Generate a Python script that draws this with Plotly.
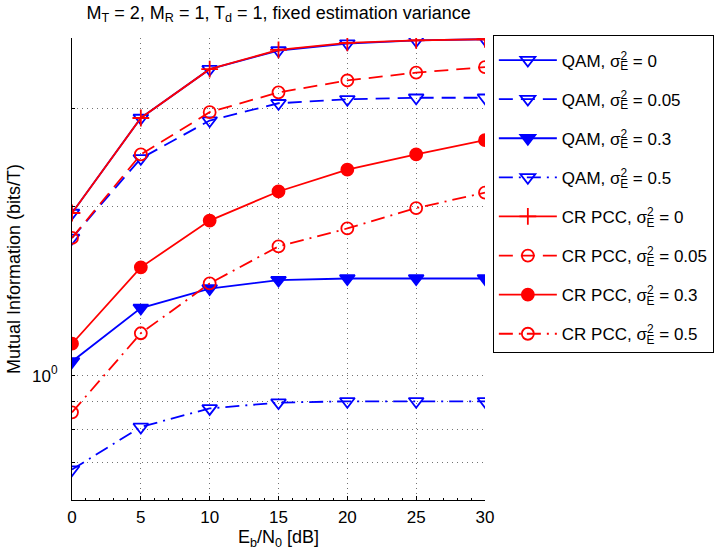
import plotly.graph_objects as go

snr_db = [0, 5, 10, 15, 20, 25, 30]

qam_e0 = [1.95, 2.88, 3.52, 3.80, 3.91, 3.96, 3.98]
qam_e005 = [1.76, 2.44, 2.85, 3.06, 3.11, 3.13, 3.13]
qam_e03 = [1.06, 1.32, 1.43, 1.48, 1.49, 1.49, 1.49]
qam_e05 = [0.68, 0.81, 0.874, 0.895, 0.90, 0.90, 0.90]
pcc_e0 = [1.95, 2.88, 3.52, 3.81, 3.92, 3.96, 3.98]
pcc_e005 = [1.76, 2.48, 2.95, 3.20, 3.36, 3.47, 3.55]
pcc_e03 = [1.14, 1.56, 1.89, 2.13, 2.33, 2.48, 2.63]
pcc_e05 = [0.86, 1.19, 1.46, 1.70, 1.83, 1.99, 2.12]

SIG = "σ<sup><span style='letter-spacing:-7px'>2</span></sup><sub>E</sub>"
names = [
    f"QAM, {SIG} = 0",
    f"QAM, {SIG} = 0.05",
    f"QAM, {SIG} = 0.3",
    f"QAM, {SIG} = 0.5",
    f"CR PCC, {SIG} = 0",
    f"CR PCC, {SIG} = 0.05",
    f"CR PCC, {SIG} = 0.3",
    f"CR PCC, {SIG} = 0.5",
]

BLUE = "rgb(0,0,255)"
RED = "rgb(255,0,0)"
DASH = "14px,8px"
DASHDOT = "14px,6px,2px,6px"

styles = [
    (qam_e0, BLUE, "solid", "triangle-down-open", 13),
    (qam_e005, BLUE, DASH, "triangle-down-open", 13),
    (qam_e03, BLUE, "solid", "triangle-down", 13),
    (qam_e05, BLUE, DASHDOT, "triangle-down-open", 13),
    (pcc_e0, RED, "solid", "cross-thin-open", 12),
    (pcc_e005, RED, DASH, "circle-open", 12),
    (pcc_e03, RED, "solid", "circle", 12),
    (pcc_e05, RED, DASHDOT, "circle-open", 12),
]

fig = go.Figure()
for i, ((vals, col, dash, sym, ms), nm) in enumerate(zip(styles, names)):
    fig.add_trace(go.Scatter(
        x=snr_db, y=vals, name=nm, mode="lines+markers",
        legendgroup=f"g{i}",
        line=dict(color=col, width=1.8, dash=dash),
        marker=dict(symbol=sym, size=ms, color=col,
                    line=dict(color=col, width=1.8)),
    ))

FONT = "Liberation Sans, Arial, Helvetica, sans-serif"

fig.update_layout(
    width=720, height=557,
    autosize=False,
    margin=dict(l=72, r=235, t=38, b=57, autoexpand=False),
    paper_bgcolor="white", plot_bgcolor="white",
    font=dict(family=FONT, size=17, color="black"),
    title=dict(
        text="M<sub>T</sub> = 2, M<sub>R</sub> = 1, T<sub>d</sub> = 1, fixed estimation variance",
        x=0.387, xanchor="center", xref="container",
        y=0.978, yanchor="middle", yref="container",
        font=dict(size=18), automargin=False,
    ),
    showlegend=True,
    legend=dict(
        x=1.019, xanchor="left", y=1.0065, yanchor="top",
        bordercolor="black", borderwidth=1, bgcolor="white",
        font=dict(size=17), tracegroupgap=14, itemwidth=58,
        traceorder="grouped", maxheight=1,
        title=dict(text=" ", font=dict(size=5)),
    ),
)

fig.update_xaxes(
    range=[0, 30], tickvals=[0, 5, 10, 15, 20, 25, 30],
    showline=True, linecolor="black", linewidth=1, automargin=False,
    ticks="inside", ticklen=4, tickcolor="black",
    minor=dict(dtick=1, ticks="inside", ticklen=2, tickcolor="black", showgrid=False),
    showgrid=True, gridcolor="rgba(0,0,0,0.55)", gridwidth=1, griddash="1px,4px",
    zeroline=False, tickfont=dict(size=17), ticklabelstandoff=2,
    title=dict(text="E<sub>b</sub>/N<sub>0</sub> [dB]", font=dict(size=18), standoff=3),
)

fig.update_yaxes(
    type="log", range=[-0.2218, 0.6021], automargin=False,
    tickvals=[0.7, 0.8, 0.9, 1, 2, 3],
    ticktext=["", "", "", "10<sup>0</sup>", "", ""],
    showline=True, linecolor="black", linewidth=1,
    ticks="inside", ticklen=3, tickcolor="black",
    showgrid=True, gridcolor="rgba(0,0,0,0.55)", gridwidth=1, griddash="1px,4px",
    zeroline=False, tickfont=dict(size=17), ticklabelstandoff=10,
    title=dict(text="Mutual Information (bits/T)", font=dict(size=18), standoff=6),
)

fig.write_html("out.html", config={"displayModeBar": False},
               post_script="document.body.style.margin='0px';")
